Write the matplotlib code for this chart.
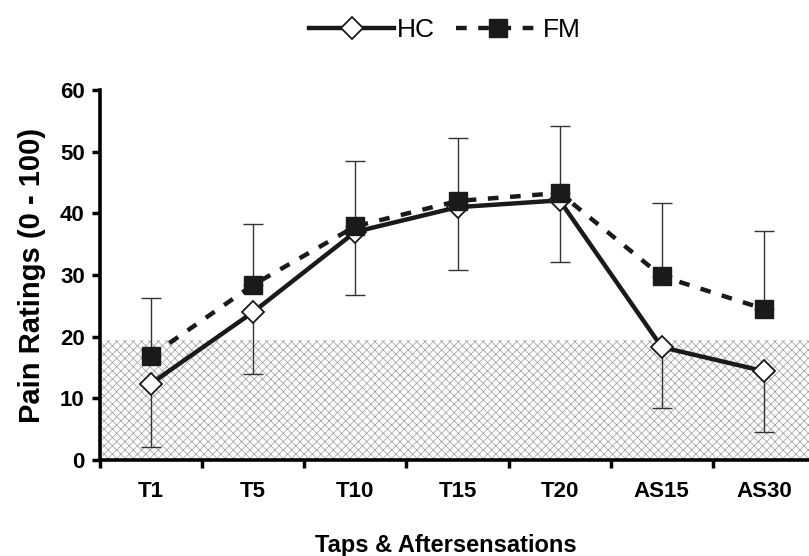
import numpy as np
import matplotlib.pyplot as plt

plt.rcParams['font.family'] = ['Liberation Sans', 'DejaVu Sans']
plt.rcParams['hatch.linewidth'] = 0.5

# data
categorii = ['T1', 'T5', 'T10', 'T15', 'T20', 'AS15', 'AS30']
hc_medie = [12.4, 24.0, 37.0, 41.0, 42.1, 18.3, 14.4]
hc_jos = [2.1, 13.9, 26.8, 30.8, 32.1, 8.4, 4.5]      # capatul de jos al barei de eroare
fm_medie = [16.9, 28.4, 37.9, 42.0, 43.3, 29.8, 24.5]
fm_sus = [26.3, 38.3, 48.5, 52.2, 54.2, 41.6, 37.1]   # capatul de sus al barei de eroare
prag = 19.4

x = np.arange(len(categorii))
hc_err = np.array(hc_medie) - np.array(hc_jos)
fm_err = np.array(fm_sus) - np.array(fm_medie)

fig = plt.figure(figsize=(8.09, 5.56), dpi=100)
ax = fig.add_axes([100 / 809, 96 / 556, 715 / 809, 370 / 556])

""" zona hasurata """
ax.axhspan(0, prag, facecolor='white', edgecolor='#9a9a9a', hatch='xxxx', linewidth=0, zorder=0)

""" bare de eroare """
ax.errorbar(x, hc_medie, yerr=[hc_err, np.zeros(len(x))], fmt='none', ecolor='#333333',
            elinewidth=1.0, capsize=7, capthick=1.0, zorder=2)
ax.errorbar(x, fm_medie, yerr=[np.zeros(len(x)), fm_err], fmt='none', ecolor='#333333',
            elinewidth=1.0, capsize=7, capthick=1.0, zorder=2)

""" liniile """
ax.plot(x, hc_medie, '-', color='#1a1a1a', lw=3.2, marker='D', markersize=11,
        markerfacecolor='white', markeredgecolor='#1a1a1a', markeredgewidth=1.3,
        label='HC', zorder=3)
ax.plot(x, fm_medie, color='#1a1a1a', lw=3.2, linestyle=(0, (2.4, 2.6)), marker='s',
        markersize=13.5, markerfacecolor='#1a1a1a', markeredgecolor='#1a1a1a',
        label='FM', zorder=4)

ax.set_xlim(-0.5, 6.5)
ax.set_ylim(0, 60)
ax.set_yticks(range(0, 61, 10))
ax.set_xticks(x)
ax.set_xticklabels(categorii, fontsize=16, fontweight='bold')
ax.set_xticks(np.arange(-0.5, 6.5, 1), minor=True)
ax.tick_params(axis='x', which='major', length=0, pad=15)
ax.tick_params(axis='x', which='minor', length=6, width=2.5, direction='out')
ax.tick_params(axis='y', length=6, width=2.5, direction='out', labelsize=16, pad=5)
for lbl in ax.get_yticklabels():
    lbl.set_fontweight('bold')

for s in ['top', 'right']:
    ax.spines[s].set_visible(False)
for s in ['left', 'bottom']:
    ax.spines[s].set_linewidth(2.6)

ax.set_ylabel('Pain Ratings (0 - 100)', fontsize=21, fontweight='bold', labelpad=10)
ax.set_xlabel('Taps & Aftersensations', fontsize=17, fontweight='bold')
ax.xaxis.set_label_coords(0.484, -0.2)

fig.legend(loc='upper center', bbox_to_anchor=(0.55, 1.01), ncol=2, frameon=False,
           fontsize=19, handlelength=3.2, columnspacing=0.8, handletextpad=0.1)

fig.savefig('out.png', dpi=100)
